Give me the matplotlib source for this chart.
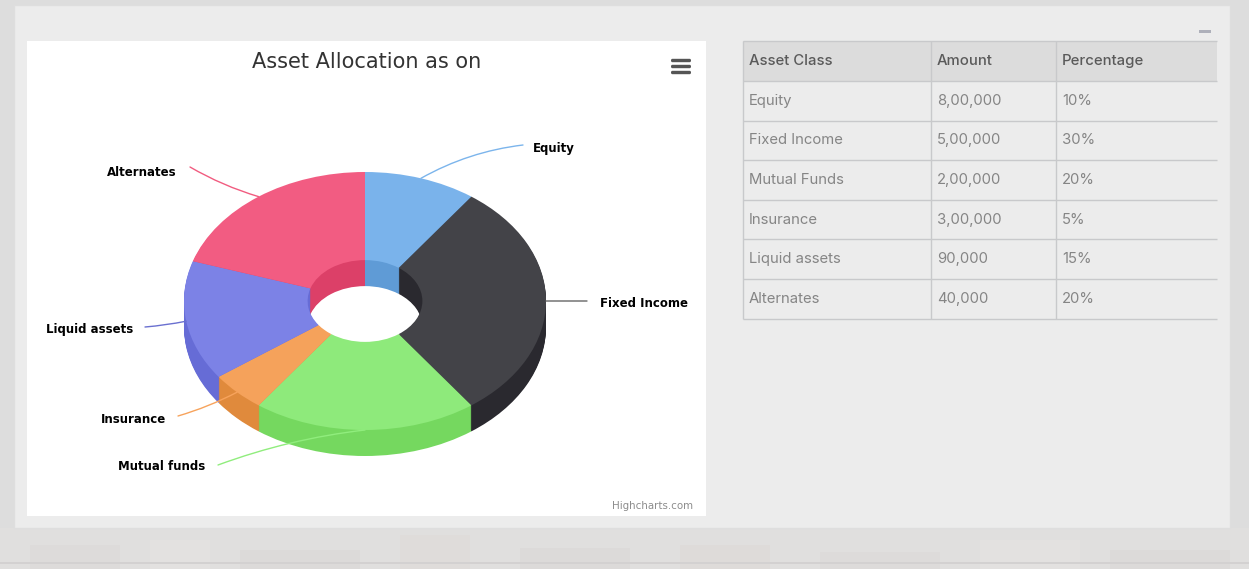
#!/usr/bin/env python3

import numpy as np
import matplotlib
matplotlib.use('Agg')
import matplotlib.pyplot as plt
from matplotlib.patches import Rectangle, FancyBboxPatch

W, H = 1249, 569

# chart data
labels = ['Equity', 'Fixed Income', 'Mutual funds', 'Insurance', 'Liquid assets', 'Alternates']
shares = [10, 30, 20, 5, 15, 20]
top_colors = ['#7ab3eb', '#434348', '#8eea7b', '#f5a25b', '#7c82e6', '#f25c82']
side_colors = ['#5f9bd6', '#2a292f', '#75d85f', '#e08a3c', '#666cd6', '#dc4068']
line_colors = ['#7cb5ec', '#666666', '#90ed7d', '#f7a35c', '#6a70d0', '#f15c80']

# table data
table_header = ['Asset Class', 'Amount', 'Percentage']
table_class = ['Equity', 'Fixed Income', 'Mutual Funds', 'Insurance', 'Liquid assets', 'Alternates']
table_amount = ['8,00,000', '5,00,000', '2,00,000', '3,00,000', '90,000', '40,000']
table_percent = ['10%', '30%', '20%', '5%', '15%', '20%']

# layout in pixels
cx, cy, rx, ry, depth = 365, 301, 181, 129, 26
panel = (27, 41, 706, 516)
col_x = [743, 931, 1056, 1217]
row_y = [41, 81, 120.5, 160, 200, 239, 279, 318.5]
# where each connector ends, and the label next to it
label_end = [(523, 145), (587, 301), (218, 465), (178, 416), (145, 327), (190, 167)]
label_pos = [(533, 148.5), (600, 303), (118, 466), (101, 419), (46, 329.5), (107, 172)]
label_rad = [0.1, 0, -0.06, 0.05, 0.03, 0.06]

fig = plt.figure(figsize=(W / 100, H / 100), dpi=100)

# page background, in pixel coordinates
bg = fig.add_axes([0, 0, 1, 1])
bg.set_xlim(0, W)
bg.set_ylim(H, 0)
bg.axis('off')
bg.add_patch(Rectangle((0, 0), W, H, color='#dddddd', lw=0))
bg.add_patch(Rectangle((0, 528), W, 41, color='#e0dfde', lw=0))
for x, w, y, c in [(30, 90, 545, '#dddbda'), (150, 60, 540, '#e3e1e0'), (240, 120, 550, '#dcdad9'),
                   (400, 70, 535, '#dfdcda'), (520, 110, 548, '#dcdad9'), (680, 90, 545, '#dedbd9'),
                   (820, 120, 552, '#dddbda'), (980, 100, 540, '#e3e1e0'), (1110, 120, 550, '#dcdad9')]:
    bg.add_patch(Rectangle((x, y), w, 569 - y, color=c, lw=0))
bg.add_patch(Rectangle((0, 562), W, 1.5, color='#d3d1d1', lw=0))
bg.add_patch(Rectangle((14, 5), 1216, 523, facecolor='#ececec', edgecolor='#dedede', lw=1))
bg.add_patch(Rectangle((panel[0], panel[1]), panel[2] - panel[0], panel[3] - panel[1], color='white', lw=0))

# menu icon and collapse mark
for y in [60.5, 66.5, 72.5]:
    bg.add_patch(FancyBboxPatch((671, y - 1.7), 20, 3.4, boxstyle='round,pad=0,rounding_size=1.5', color='#555555', lw=0))
bg.add_patch(Rectangle((1199, 30), 12, 2.5, color='#aeb0ba', lw=0))

bg.text(367, 62, 'Asset Allocation as on', ha='center', va='center', fontsize=15,
        family='DejaVu Sans', color='#333333')
bg.text(693, 506, 'Highcharts.com', ha='right', va='center', fontsize=7.4, family='DejaVu Sans', color='#8c8c8c')

# table
bg.add_patch(Rectangle((col_x[0], row_y[0]), col_x[-1] - col_x[0], row_y[1] - row_y[0], color='#dcdcdc', lw=0))
bg.hlines(row_y, col_x[0], col_x[-1], color='#c8c9cb', lw=1)
bg.vlines(col_x[:-1], row_y[0], row_y[-1], color='#c8c9cb', lw=1)
for j, text in enumerate(table_header):
    bg.text(col_x[j] + 6, (row_y[0] + row_y[1]) / 2, text, va='center', fontsize=10.7,
            family='Inter', color='#5a5a5a', fontweight='medium')
for i in range(len(table_class)):
    y = (row_y[i + 1] + row_y[i + 2]) / 2
    for j, col in enumerate([table_class, table_amount, table_percent]):
        bg.text(col_x[j] + 6, y, col[i], va='center', fontsize=10.7, family='Inter', color='#858585')

# donut, one unit is rx across and ry down, stacked up from the bottom for the depth
ax = fig.add_axes([panel[0] / W, 1 - panel[3] / H, (panel[2] - panel[0]) / W, (panel[3] - panel[1]) / H])
for d in range(depth, 0, -1):
    ax.pie(shares, colors=side_colors, startangle=90, counterclock=False, radius=1,
           center=(0, -d / ry), wedgeprops=dict(width=0.683, lw=0.8, edgecolor='none'))
wedges, _ = ax.pie(shares, colors=top_colors, startangle=90, counterclock=False, radius=1,
                   center=(0, 0), wedgeprops=dict(width=0.683, lw=0))
ax.set_aspect('auto')
ax.set_xlim((panel[0] - cx) / rx, (panel[2] - cx) / rx)
ax.set_ylim((cy - panel[3]) / ry, (cy - panel[1]) / ry)
ax.axis('off')

# connectors start at the middle of each slice
mid = (np.cumsum(shares) - np.array(shares) / 2) / np.sum(shares) * 2 * np.pi
for i, name in enumerate(labels):
    start = (np.sin(mid[i]), np.cos(mid[i]))
    end = ((label_end[i][0] - cx) / rx, (cy - label_end[i][1]) / ry)
    ax.annotate('', xy=start, xytext=end, xycoords='data', textcoords='data',
                arrowprops=dict(arrowstyle='-', color=line_colors[i], lw=1, shrinkA=0, shrinkB=0,
                                connectionstyle='arc3,rad=%g' % label_rad[i]))
    bg.text(label_pos[i][0], label_pos[i][1], name, va='center', fontsize=8.5,
            family='DejaVu Sans', fontweight='bold', color='black')

plt.savefig('out.png', dpi=100)
